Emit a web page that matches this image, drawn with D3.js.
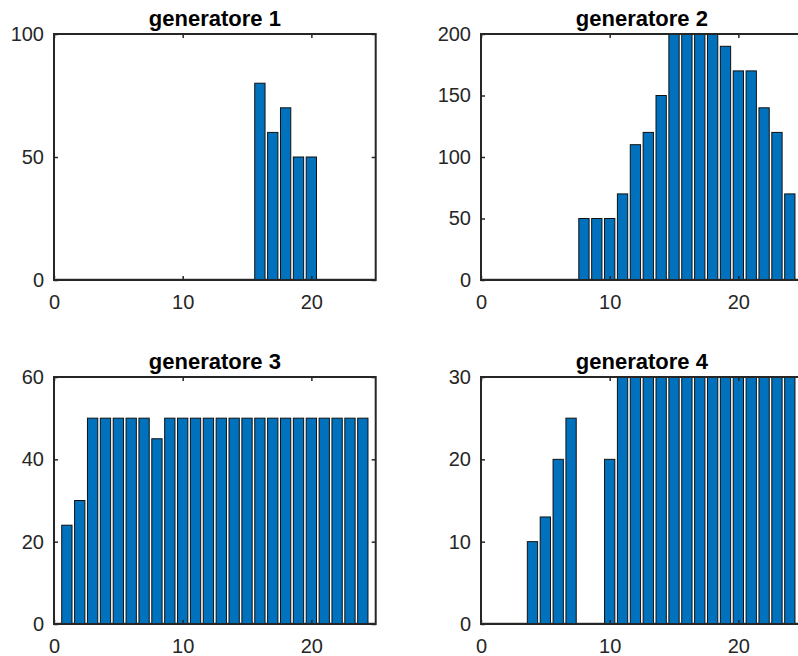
<!DOCTYPE html>
<html>
<head>
<meta charset="utf-8">
<script src="https://cdn.jsdelivr.net/npm/d3@7"></script>
<style>
  body { margin: 0; background: #fff; }
  svg { display: block; font-family: Arial, "Liberation Sans", sans-serif; }
</style>
</head>
<body>
<div id="my_dataviz"></div>
<script>
// hours on the x axis
let hours = [1, 2, 3, 4, 5, 6, 7, 8, 9, 10, 11, 12, 13, 14, 15, 16, 17, 18, 19, 20, 21, 22, 23, 24];

let gen1 = [0, 0, 0, 0, 0, 0, 0, 0, 0, 0, 0, 0, 0, 0, 0, 80, 60, 70, 50, 50, 0, 0, 0, 0];
let gen2 = [0, 0, 0, 0, 0, 0, 0, 50, 50, 50, 70, 110, 120, 150, 200, 200, 200, 200, 190, 170, 170, 140, 120, 70];
let gen3 = [24, 30, 50, 50, 50, 50, 50, 45, 50, 50, 50, 50, 50, 50, 50, 50, 50, 50, 50, 50, 50, 50, 50, 50];
let gen4 = [0, 0, 0, 10, 13, 20, 25, 0, 0, 20, 30, 30, 30, 30, 30, 30, 30, 30, 30, 30, 30, 30, 30, 30];

let titles = ["generatore 1", "generatore 2", "generatore 3", "generatore 4"];
let xTicks = [0, 10, 20];
let yTicks1 = [0, 50, 100];
let yTicks2 = [0, 50, 100, 150, 200];
let yTicks3 = [0, 20, 40, 60];
let yTicks4 = [0, 10, 20, 30];

let svg = d3.select("#my_dataviz").append("svg")
  .attr("width", 798)
  .attr("height", 656);

let axColor = "#262626";
let barColor = "#0072BD";
let plotW = 321.7;

function drawPanel(left, top, bottom, title, values, yTicks) {
  let x = d3.scaleLinear().domain([0, 25]).range([left, left + plotW]);
  let y = d3.scaleLinear().domain([0, yTicks[yTicks.length - 1]]).range([bottom, top]);

  let g = svg.append("g");

  // bar baseline (light, just above the axis)
  g.append("line")
    .attr("x1", x(0) + 2)
    .attr("x2", x(25) - 1)
    .attr("y1", y(0) - 1.5)
    .attr("y2", y(0) - 1.5)
    .attr("stroke", "#cfcfcf")
    .attr("stroke-width", 1);

  // bars
  let data = hours.map(function(h, i) { return {h: h, v: values[i]}; });

  g.selectAll("rect.bar")
    .data(data.filter(function(d) { return d.v > 0; }))
    .enter().append("rect")
    .attr("class", "bar")
    .attr("x", function(d) { return x(d.h - 0.4); })
    .attr("width", function(d) { return x(d.h + 0.4) - x(d.h - 0.4); })
    .attr("y", function(d) { return y(d.v); })
    .attr("height", function(d) { return y(0) - y(d.v); })
    .attr("fill", barColor)
    .attr("stroke", "#111")
    .attr("stroke-width", 1);

  // axes (ticks point inward)
  let xAxis = d3.axisBottom(x).tickValues(xTicks).tickSize(-4).tickPadding(15).tickFormat(d3.format("d"));
  let xTop = d3.axisTop(x).tickValues(xTicks).tickSize(-4).tickFormat("");
  let yAxis = d3.axisLeft(y).tickValues(yTicks).tickSize(-4).tickPadding(10).tickFormat(d3.format("d"));
  let yRight = d3.axisRight(y).tickValues(yTicks).tickSize(-4).tickFormat("");

  let axes = [
    g.append("g").attr("transform", "translate(0," + bottom + ")").call(xAxis),
    g.append("g").attr("transform", "translate(0," + top + ")").call(xTop),
    g.append("g").attr("transform", "translate(" + left + ",0)").call(yAxis),
    g.append("g").attr("transform", "translate(" + (left + plotW) + ",0)").call(yRight)
  ];
  axes.forEach(function(a) {
    a.select(".domain").remove();
    a.selectAll(".tick line").attr("stroke", axColor).attr("stroke-width", 1.5);
    a.selectAll(".tick text").attr("fill", axColor).style("font-size", "20px");
  });

  // box
  g.append("rect")
    .attr("x", left)
    .attr("y", top)
    .attr("width", plotW)
    .attr("height", bottom - top)
    .attr("fill", "none")
    .attr("stroke", axColor)
    .attr("stroke-width", 2);

  // title
  g.append("text")
    .attr("x", left + plotW / 2)
    .attr("y", top - 8)
    .attr("text-anchor", "middle")
    .style("font-size", "22px")
    .style("font-weight", "bold")
    .attr("fill", "#000")
    .text(title);
}

drawPanel(54, 34, 280, titles[0], gen1, yTicks1);
drawPanel(481, 34, 280, titles[1], gen2, yTicks2);
drawPanel(54, 377, 624, titles[2], gen3, yTicks3);
drawPanel(481, 377, 624, titles[3], gen4, yTicks4);
</script>
</body>
</html>
